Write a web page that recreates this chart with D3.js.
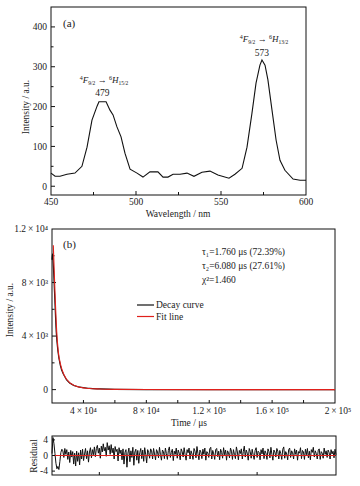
<!DOCTYPE html>
<html>
<head>
<meta charset="utf-8">
<script src="https://cdn.jsdelivr.net/npm/d3@7"></script>
<style>
  body { margin: 0; background: #fff; }
  svg { display: block; }
  text { font-family: "Liberation Serif", "Times New Roman", serif; fill: #1a1a1a; }
</style>
</head>
<body>
<div id="chart"></div>
<script>
// ---- data ----
// (a) emission spectrum
const wavelength = [450, 452.4, 455.3, 459.4, 464.1, 468.2, 471.2, 474.1, 477.1, 478.2, 482.4, 484.7, 486.5, 488.8, 491.2, 493.5, 496.5, 500.6, 504.1, 508.2, 512.9, 515.9, 518.8, 521.8, 525.9, 530, 534.1, 538.8, 543.5, 548.2, 554.7, 558.2, 562.4, 565.3, 568.2, 570.6, 572.9, 574.1, 575.9, 577.6, 580, 582.4, 584.7, 587.6, 592.4, 596.5, 600];
const intensity = [33, 25, 25, 30, 33, 50, 98, 166, 201, 212, 212, 191, 179, 149, 124, 83, 43, 33, 23, 36, 36, 23, 23, 30, 30, 33, 25, 35, 38, 28, 20, 30, 45, 98, 183, 259, 304, 317, 304, 267, 191, 116, 65, 40, 18, 15, 15];
const peakLabels = ["479", "573"];
const peakPos = [479, 574];

// (b) decay curve and fit
const decayTime = [20000, 20300, 20700, 21600, 22700, 23800, 25300, 27400, 31200, 37600, 44000, 50500, 60000, 80000, 120000, 160000, 200000];
const decayValue = [9700, 10150, 9600, 7300, 4300, 2850, 1820, 1120, 490, 180, 90, 55, 22, 6, 0, 0, 0];
const fitTime = [20830, 21900, 23000, 24000, 25500, 27600, 31400, 37800, 44000, 50500, 60000, 80000, 120000, 160000, 200000];
const fitValue = [10790, 7280, 4320, 2840, 1850, 1110, 500, 170, 80, 50, 20, 5, 0, 0, 0];
const fitText = ["τ₁=1.760 μs (72.39%)", "τ₂=6.080 μs (27.61%)", "χ²=1.460"];
const legendNames = ["Decay curve", "Fit line"];
const xTickLabels = ["4\u2009×\u200910⁴", "8\u2009×\u200910⁴", "1.2\u2009×\u200910⁵", "1.6\u2009×\u200910⁵", "2\u2009×\u200910⁵"];
const yTickLabels = ["0", "4\u2009×\u200910³", "8\u2009×\u200910³", "1.2\u2009×\u200910⁴"];

// residuals (uniform time channels)
const residStart = 20000, residStep = 625;
const residual = [0.5, 4.6, 3.0, 0.5, -2.0, -3.4, -2.8, -3.6, -1.5, 0.8, 1.6,
  1.2, -0.5, 1.8, 0.3, 1.5, -1.0, 0.9, -1.8, 1.3, -0.4,
  1.0, -2.2, 0.6, -2.7, 1.1, -1.5, 0.7, -2.4, 1.4, -0.9,
  1.6, -1.3, 0.4, 1.8, -0.8, 1.2, -1.7, 0.9, 2.0, -0.6,
  1.5, 0.2, 2.2, -0.3, 1.8, 2.6, 0.6, 1.9, -0.7, 2.4,
  0.9, 3.0, 1.2, 2.1, -0.2, 3.3, 1.4, 2.5, 0.3, 2.8,
  0.7, 1.9, -0.9, 2.3, 1.0, 1.6, -1.4, 2.0, 0.5, 1.4,
  -1.1, 1.7, -2.2, 0.8, 1.5, -3.0, 0.6, 1.9, -1.6, 1.2,
  -0.5, 2.1, -2.5, 0.9, 1.6, -1.2, 1.3, -2.0, 0.7, 1.8,
  -0.8, 1.4, -1.5, 2.0, 0.3, -1.9, 1.5, 0.8, -0.7, 1.7,
  1.2, -0.9, 1.8, 0.4, -1.1, 1.5, 0.9, -0.6, 2.1, 0.2,
  -1.2, 1.4, 1.0, -0.8, 1.9, 0.5, -1.0, 1.3, 2.2, -0.5,
  0.8, 1.6, -1.3, 1.1, 0.3, 1.9, -0.7, 1.4, 0.6, -1.1,
  1.7, 1.0, -0.4, 2.0, 0.2, -1.2, 1.5, 0.7, 1.9, -0.9,
  1.2, 0.4, -1.0, 1.8, 1.1, -0.6, 2.3, 0.5, -1.1, 1.4,
  0.9, -0.8, 1.6, 0.3, 1.9, -1.2, 1.0, 0.6, -0.5, 1.7,
  2.1, -0.9, 1.3, 0.4, -1.0, 1.5, 1.8, -0.3, 1.1, -1.1,
  1.6, 0.8, -0.7, 2.0, 0.2, 1.4, -1.2, 1.2, 0.7, -0.6,
  1.9, 1.1, -1.0, 1.5, 0.3, -0.8, 2.2, 0.9, -1.1, 1.3,
  0.5, 1.7, -0.9, 1.0, 2.4, -0.4, 1.4, 0.6, -1.2, 1.8,
  1.0, -0.7, 1.6, 0.2, -1.0, 1.3, 2.0, -0.5, 1.1, 0.8,
  -1.1, 1.5, 0.4, 1.9, -0.8, 1.2, 0.6, -1.0, 1.7, 1.0,
  -0.6, 2.1, 0.3, -1.2, 1.4, 0.9, -0.4, 1.8, 1.1, -0.9,
  1.3, 0.5, -1.0, 1.6, 2.2, -0.7, 1.0, 0.4, -1.1, 1.5,
  1.9, -0.5, 1.2, 0.7, -0.9, 1.7, 0.3, 1.4, -1.2, 1.0,
  0.6, 2.0, -0.8, 1.3, 0.9, -1.0, 1.6, 0.2, 1.8, -0.6,
  1.1, -1.1, 1.5, 0.8, 2.1, -0.4, 1.2, 0.5, -0.9, 1.4,
  1.7, -1.0, 1.0, 0.6, -0.7, 1.9, 0.3, 1.2, -0.5, 1.4,
  0.8, -0.9, 1.5, 0.4, 1.1, -0.6, 1.6, 0.2];

const svg = d3.select("#chart").append("svg")
    .attr("width", 360)
    .attr("height", 486);

// helper: inward ticks drawn from a scale
function drawTicks(g, scale, orient, values, len) {
    values.forEach(v => {
        const p = scale(v);
        if (orient === "left") {
            g.append("line").attr("x1", scale.px).attr("x2", scale.px + len)
                .attr("y1", p).attr("y2", p);
        } else {
            g.append("line").attr("y1", scale.py).attr("y2", scale.py - len)
                .attr("x1", p).attr("x2", p);
        }
    });
    g.selectAll("line").attr("stroke", "#111").attr("stroke-width", 1);
}

// ================= panel (a) =================
const xa = d3.scaleLinear().domain([450, 600]).range([51, 306]);
const ya = d3.scaleLinear().domain([-22, 450]).range([195, 7]);

const ga = svg.append("g");
ga.append("rect").attr("x", 51).attr("y", 7).attr("width", 255).attr("height", 188)
    .attr("fill", "none").attr("stroke", "#111").attr("stroke-width", 1);

xa.py = 195;
drawTicks(ga.append("g"), xa, "bottom", [500, 550], 4);
drawTicks(ga.append("g"), xa, "bottom", [475, 525, 575], 3);
ga.selectAll(".xl").data([450, 500, 550, 600]).enter().append("text")
    .attr("x", d => xa(d)).attr("y", 205).attr("text-anchor", "middle")
    .attr("font-size", "9.5px").text(d => d);

ya.px = 51;
drawTicks(ga.append("g"), ya, "left", [0, 100, 200, 300, 400], 4);
drawTicks(ga.append("g"), ya, "left", [50, 150, 250, 350], 2.5);
ga.selectAll(".yl").data([0, 100, 200, 300, 400]).enter().append("text")
    .attr("x", 47).attr("y", d => ya(d) + 3.3).attr("text-anchor", "end")
    .attr("font-size", "9.5px").text(d => d);

ga.append("text").attr("x", 178).attr("y", 217).attr("text-anchor", "middle")
    .attr("font-size", "9.5px").text("Wavelength / nm");
ga.append("text").attr("transform", "translate(29,107) rotate(-90)")
    .attr("text-anchor", "middle").attr("font-size", "9.5px").text("Intensity / a.u.");
ga.append("text").attr("x", 63).attr("y", 27).attr("font-size", "11px").text("(a)");

const lineA = d3.line().x((d, i) => xa(wavelength[i])).y(d => ya(d));
ga.append("path").datum(intensity).attr("d", lineA)
    .attr("fill", "none").attr("stroke", "#111").attr("stroke-width", 1.1);

// transition labels
function transition(g, cx, y, upper) {
    const t = g.append("text").attr("x", cx).attr("y", y).attr("text-anchor", "middle")
        .attr("font-size", "9px");
    t.append("tspan").attr("font-size", "6px").attr("dy", -3).text("4");
    t.append("tspan").attr("font-style", "italic").attr("dy", 3).text("F");
    t.append("tspan").attr("font-size", "5.5px").attr("dy", 2).text("9/2");
    t.append("tspan").attr("dy", -2).text(" → ");
    t.append("tspan").attr("font-size", "6px").attr("dy", -3).text("6");
    t.append("tspan").attr("font-style", "italic").attr("dy", 3).text("H");
    t.append("tspan").attr("font-size", "5.5px").attr("dy", 2).text(upper);
}
transition(ga, 104, 83, "15/2");
transition(ga, 264, 42, "13/2");
ga.selectAll(".pk").data(peakLabels).enter().append("text")
    .attr("x", (d, i) => xa(peakPos[i]) + (i === 0 ? 2 : 0))
    .attr("y", (d, i) => i === 0 ? 96 : 56)
    .attr("text-anchor", "middle").attr("font-size", "9.5px").text(d => d);

// ================= panel (b) =================
const xb = d3.scaleLinear().domain([20000, 200000]).range([52, 335]);
const yb = d3.scaleLinear().domain([-1000, 12000]).range([403, 229]);

const gb = svg.append("g");
gb.append("rect").attr("x", 52).attr("y", 229).attr("width", 283).attr("height", 174)
    .attr("fill", "none").attr("stroke", "#111").attr("stroke-width", 1);

xb.py = 403;
drawTicks(gb.append("g"), xb, "bottom", [40000, 60000, 80000, 100000, 120000, 140000, 160000, 180000], 3);
gb.selectAll(".xl").data([40000, 80000, 120000, 160000, 200000]).enter().append("text")
    .attr("x", (d, i) => xb(d) + (i === 4 ? 3 : 0)).attr("y", 414).attr("text-anchor", "middle")
    .attr("font-size", "9.5px").text((d, i) => xTickLabels[i]);

yb.px = 52;
drawTicks(gb.append("g"), yb, "left", [0, 4000, 8000], 4);
drawTicks(gb.append("g"), yb, "left", [2000, 6000, 10000], 2.5);
gb.selectAll(".yl").data([0, 4000, 8000, 12000]).enter().append("text")
    .attr("x", 48).attr("y", d => yb(d) + 3.3).attr("text-anchor", "end")
    .attr("font-size", "9.5px").text((d, i) => yTickLabels[i]);

gb.append("text").attr("x", 189).attr("y", 426).attr("text-anchor", "middle")
    .attr("font-size", "9.5px").text("Time / μs");
gb.append("text").attr("transform", "translate(13,310) rotate(-90)")
    .attr("text-anchor", "middle").attr("font-size", "9.5px").text("Intensity / a.u.");
gb.append("text").attr("x", 63).attr("y", 248).attr("font-size", "11px").text("(b)");

gb.append("path").datum(decayValue)
    .attr("d", d3.line().x((d, i) => xb(decayTime[i])).y(d => yb(d)).curve(d3.curveMonotoneX))
    .attr("fill", "none").attr("stroke", "#111").attr("stroke-width", 1.2);
gb.append("path").datum(fitValue)
    .attr("d", d3.line().x((d, i) => xb(fitTime[i])).y(d => yb(d)).curve(d3.curveMonotoneX))
    .attr("fill", "none").attr("stroke", "#e0201b").attr("stroke-width", 1.1);

gb.selectAll(".ft").data(fitText).enter().append("text")
    .attr("x", 202).attr("y", (d, i) => 255 + i * 14)
    .attr("font-size", "9.5px").text(d => d);

const legColors = ["#111", "#e0201b"];
legendNames.forEach((name, i) => {
    const y = 305 + i * 11.5;
    gb.append("line").attr("x1", 137).attr("x2", 154).attr("y1", y).attr("y2", y)
        .attr("stroke", legColors[i]).attr("stroke-width", 1.2);
    gb.append("text").attr("x", 156).attr("y", y + 3.3).attr("font-size", "9.5px").text(name);
});

// ================= residual =================
const xr = d3.scaleLinear().domain([20000, 200000]).range([52, 336]);
const yr = d3.scaleLinear().domain([-5, 5]).range([475, 436]);

const gr = svg.append("g");
const residLine = d3.line().x((d, i) => xr(residStart + i * residStep)).y(d => yr(d));
gr.append("path").datum(residual).attr("d", residLine)
    .attr("fill", "none").attr("stroke", "#111").attr("stroke-width", 1);
gr.append("line").attr("x1", xr(20000)).attr("x2", xr(200000))
    .attr("y1", yr(0)).attr("y2", yr(0))
    .attr("stroke", "#e0201b").attr("stroke-width", 1.2);
gr.append("rect").attr("x", 52).attr("y", 436).attr("width", 284).attr("height", 39)
    .attr("fill", "none").attr("stroke", "#111").attr("stroke-width", 1);

xr.py = 475;
drawTicks(gr.append("g"), xr, "bottom", [50000, 100000, 150000], 3);
yr.px = 52;
drawTicks(gr.append("g"), yr, "left", [-4, 0, 4], 3);
gr.selectAll(".yl").data([-4, 0, 4]).enter().append("text")
    .attr("x", 48).attr("y", d => yr(d) + 3.3).attr("text-anchor", "end")
    .attr("font-size", "9.5px").text(d => d);
gr.append("text").attr("transform", "translate(37,456) rotate(-90)")
    .attr("text-anchor", "middle").attr("font-size", "9.5px").text("Residual");
</script>
</body>
</html>
